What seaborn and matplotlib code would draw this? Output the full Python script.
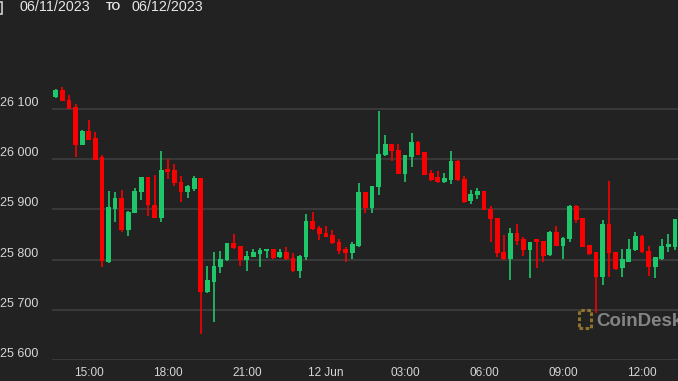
import numpy as np
import pandas as pd
import matplotlib
matplotlib.use("Agg")
import matplotlib.pyplot as plt
from matplotlib.patches import Rectangle
import seaborn as sns

# ---- data: 15-minute BTC candles, 11 Jun 13:45 -> 12 Jun 13:15 ----
opens = [26124, 26138, 26119, 26104, 26029, 26057, 26042, 26004, 25796, 25901,
         25923, 25860, 25893, 25935, 25964, 25909, 25883, 25980, 25978, 25955,
         25934, 25941, 25962, 25735, 25756, 25786, 25799, 25833, 25828, 25800,
         25806, 25811, 25818, 25821, 25805, 25816, 25803, 25778, 25806, 25878,
         25863, 25854, 25850, 25836, 25822, 25813, 25828, 25935, 25903, 25945,
         26009, 26030, 26019, 25971, 26004, 26034, 26014, 25972, 25964, 25954,
         25959, 25997, 25961, 25917, 25929, 25936, 25901, 25883, 25816, 25802,
         25853, 25842, 25820, 25842, 25838, 25810, 25856, 25828, 25842, 25907,
         25883, 25830, 25815, 25765, 25871, 25815, 25783, 25796, 25820, 25848,
         25818, 25786, 25802, 25825, 25826]
highs = [26140, 26145, 26129, 26111, 26058, 26079, 26054, 26009, 25936, 25934,
         25938, 25897, 25942, 25964, 25964, 25969, 26017, 26001, 25991, 25967,
         25949, 25967, 25963, 25788, 25815, 25818, 25834, 25852, 25828, 25817,
         25822, 25824, 25822, 25822, 25822, 25825, 25813, 25810, 25891, 25895,
         25867, 25868, 25859, 25841, 25826, 25836, 25953, 25935, 25946, 26097,
         26048, 26031, 26030, 26008, 26052, 26037, 26014, 25978, 25976, 25972,
         26016, 25998, 25967, 25938, 25943, 25936, 25907, 25883, 25850, 25863,
         25871, 25846, 25836, 25842, 25838, 25857, 25868, 25845, 25908, 25908,
         25883, 25830, 25815, 25879, 25956, 25815, 25822, 25841, 25856, 25849,
         25828, 25806, 25841, 25851, 25882]
lows = [26122, 26116, 26100, 26004, 26028, 26038, 25998, 25785, 25794, 25876,
        25855, 25848, 25892, 25919, 25887, 25883, 25876, 25961, 25946, 25914,
        25923, 25937, 25652, 25733, 25675, 25774, 25798, 25821, 25788, 25778,
        25805, 25785, 25803, 25802, 25804, 25800, 25776, 25764, 25800, 25860,
        25840, 25845, 25832, 25811, 25795, 25801, 25826, 25893, 25893, 25929,
        26006, 25996, 25970, 25955, 25984, 26008, 25968, 25956, 25952, 25952,
        25951, 25956, 25913, 25911, 25921, 25898, 25836, 25806, 25800, 25760,
        25830, 25808, 25764, 25783, 25796, 25808, 25827, 25802, 25836, 25874,
        25825, 25810, 25693, 25750, 25766, 25780, 25766, 25795, 25818, 25813,
        25768, 25763, 25800, 25816, 25820]
closes = [26138, 26117, 26101, 26029, 26057, 26039, 25999, 25798, 25904, 25923,
          25860, 25895, 25937, 25964, 25908, 25884, 25979, 25975, 25953, 25934,
          25946, 25962, 25736, 25760, 25788, 25802, 25833, 25824, 25799, 25808,
          25815, 25820, 25821, 25804, 25816, 25801, 25778, 25808, 25878, 25861,
          25852, 25846, 25833, 25818, 25813, 25831, 25935, 25903, 25946, 26011,
          26030, 26017, 25971, 26008, 26034, 26009, 25969, 25959, 25954, 25962,
          25997, 25958, 25915, 25931, 25936, 25899, 25881, 25813, 25802, 25853,
          25838, 25820, 25835, 25835, 25808, 25856, 25828, 25844, 25907, 25879,
          25826, 25812, 25765, 25871, 25813, 25782, 25801, 25822, 25848, 25815,
          25786, 25805, 25828, 25832, 25881]

times = pd.date_range("2023-06-11 13:45", periods=len(opens), freq="15min")
tick_times = pd.to_datetime(["2023-06-11 15:00", "2023-06-11 18:00", "2023-06-11 21:00",
                             "2023-06-12 00:00", "2023-06-12 03:00", "2023-06-12 06:00",
                             "2023-06-12 09:00", "2023-06-12 12:00"])
tick_labels = ["15:00", "18:00", "21:00", "12 Jun", "03:00", "06:00", "09:00", "12:00"]
y_ticks = [25600, 25700, 25800, 25900, 26000, 26100]
y_labels = ["25 600", "25 700", "25 800", "25 900", "26 000", "26 100"]

df = pd.DataFrame({"time": times, "open": opens, "high": highs,
                   "low": lows, "close": closes})
df["idx"] = np.arange(len(df))
df["up"] = df["close"] >= df["open"]

BG = "#222222"
GREEN = "#1ec86a"
RED = "#fa0000"

sns.set_theme(style="dark", rc={
    "figure.facecolor": BG, "axes.facecolor": BG, "savefig.facecolor": BG,
    "axes.edgecolor": BG, "text.color": "#e6e6e6",
    "xtick.color": "#d6d6d6", "ytick.color": "#d6d6d6",
})
plt.rcParams["font.family"] = ["Liberation Sans", "DejaVu Sans"]

fig = plt.figure(figsize=(6.78, 3.81), dpi=100)
ax = fig.add_axes([52 / 678, 21 / 381, 626 / 678, 285 / 381])

colors = np.where(df["up"], GREEN, RED)
# wicks
ax.vlines(df["idx"], df["low"], df["high"], colors=colors, linewidth=1.2, zorder=2)
# bodies
body_bottom = np.minimum(df["open"], df["close"])
body_height = np.maximum(np.abs(df["close"] - df["open"]), 1.2)
ax.bar(df["idx"], body_height, bottom=body_bottom, width=0.72, color=colors,
       linewidth=0, zorder=3)

ax.set_xlim(-0.58, 94.46)
ax.set_ylim(25600, 26168)

tick_pos = [int(np.where(df["time"] == t)[0][0]) for t in tick_times]
ax.set_xticks(tick_pos)
ax.set_xticklabels(tick_labels, fontsize=8.5, color="#d6d6d6")
ax.set_yticks(y_ticks)
ax.set_yticklabels(y_labels, fontsize=9, color="#d6d6d6")
for lbl in ax.get_yticklabels():
    lbl.set_verticalalignment("bottom")
ax.tick_params(axis="x", length=0, pad=5)
ax.tick_params(axis="y", length=0, pad=10)
ax.yaxis.grid(True, color="#3c3c3c", linewidth=1.3, zorder=0)
ax.xaxis.grid(False)
for s in ax.spines.values():
    s.set_visible(False)
ax.set_axisbelow(True)

# header
fig.text(19 / 678, 1 - 7 / 381, "06/11/2023", fontsize=10.3, color="#e6e6e6",
         ha="left", va="center")
fig.text(106 / 678, 1 - 7.5 / 381, "TO", fontsize=8, fontweight="bold",
         color="#e6e6e6", ha="left", va="center")
fig.text(131 / 678, 1 - 7 / 381, "06/12/2023", fontsize=10.3, color="#e6e6e6",
         ha="left", va="center")
fig.add_artist(Rectangle((-10 / 678, 1 - 14 / 381), 12 / 678, 12 / 381,
                         fill=False, ec="#cfcfcf", lw=1.2,
                         transform=fig.transFigure))

# watermark
fig.add_artist(Rectangle((579 / 678, 1 - 328 / 381), 12 / 678, 18 / 381,
                         fill=False, ec="#9a7b2e", lw=2.2, ls=(0, (1.2, 0.8)),
                         transform=fig.transFigure, alpha=0.9))
fig.text(596 / 678, 1 - 326 / 381, "CoinDesk", fontsize=13.5, fontweight="bold",
         color="#8a8a8a", ha="left", va="baseline", alpha=0.95)

fig.savefig("out.png", dpi=100, facecolor=BG)
